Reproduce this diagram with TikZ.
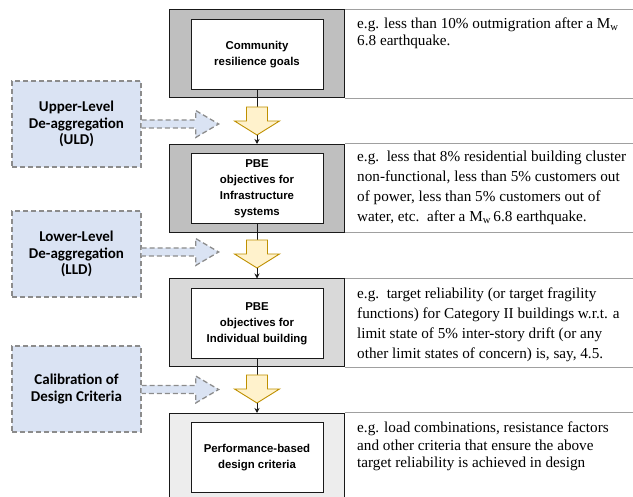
\documentclass[tikz,border=0pt]{standalone}
\usepackage{fontspec}
\setmainfont{Liberation Serif}
\newfontfamily\boxfont{Liberation Sans}
\newfontfamily\sidefont{Carlito}
\usepackage{tikz}
\usetikzlibrary{arrows.meta, positioning, calc}
\definecolor{mydark}{RGB}{25,25,25}
\definecolor{lvlgrayA}{RGB}{191,191,191}
\definecolor{lvlgrayB}{RGB}{217,217,217}
\definecolor{lvlgrayC}{RGB}{237,237,237}
\definecolor{linegray}{RGB}{160,160,160}
\definecolor{dashgray}{RGB}{140,140,140}
\definecolor{hdrblue}{RGB}{218,227,243}
\definecolor{myamber}{RGB}{191,144,0}
\definecolor{hdramber}{RGB}{255,242,204}
\tikzset{
  outerbox/.style={rectangle, draw=mydark, minimum width=175pt,
    minimum height=88pt, line width=1pt},
  innerbox/.style={rectangle, draw=mydark, fill=white, align=center,
    minimum width=132pt, minimum height=70pt, line width=1pt,
    font=\boxfont\bfseries\fontsize{11.4}{16}\selectfont},
  sidebox/.style={rectangle, draw=dashgray, fill=hdrblue, align=center,
    minimum width=129pt, minimum height=86pt, line width=1.3pt,
    dash pattern=on 5pt off 3pt,
    font=\sidefont\bfseries\fontsize{15}{16.5}\selectfont},
  sidearrow/.style={draw=dashgray, fill=hdrblue, line width=1.3pt,
    dash pattern=on 5pt off 3pt},
  blockarrow/.style={draw=myamber, fill=hdramber, line width=0.9pt},
  note/.style={anchor=north west, inner sep=0pt, align=left,
    font=\fontsize{15.2}{20}\selectfont},
  tableline/.style={draw=linegray, line width=1pt},
  line/.style={line width=1pt, color=mydark},
  flowarrow/.style={-{Stealth[length=5pt,width=5pt]}, line width=1pt, color=mydark}
}

\begin{document}
\begin{tikzpicture}[x=1pt, y=-1pt]
  \clip (0,0) rectangle (633,497);

  % Levels
  \node[outerbox, fill=lvlgrayA] (lvl1) at (257,54) {};
  \node[innerbox] (obj1) at (257,54.5) {Community\\resilience goals};
  \node[outerbox, fill=lvlgrayA] (lvl2) at (257,188.5) {};
  \node[innerbox] (obj2) at (257,189) {PBE\\objectives for\\Infrastructure\\systems};
  \node[outerbox, fill=lvlgrayB] (lvl3) at (257,323) {};
  \node[innerbox] (obj3) at (257,323.5) {PBE\\objectives for\\Individual building};
  \node[outerbox, fill=lvlgrayC] (lvl4) at (257,457.5) {};
  \node[innerbox] (obj4) at (257,458) {Performance-based\\design criteria};

  % Table lines on the right
  \draw[tableline] (lvl1.north east) -- ++(300,0);
  \draw[tableline] (lvl1.south east) -- ++(300,0);
  \draw[tableline] (lvl2.north east) -- ++(300,0);
  \draw[tableline] (lvl2.south east) -- ++(300,0);
  \draw[tableline] (lvl3.north east) -- ++(300,0);
  \draw[tableline] (lvl3.south east) -- ++(300,0);
  \draw[tableline] (lvl4.north east) -- ++(300,0);

  % Examples
  \node[note, font=\fontsize{15.2}{17.5}\selectfont] (ex1) at ($(lvl1.north east)+(12,8)$)
    {e.g. less than 10\% outmigration after a M\textsubscript{w}\\6.8 earthquake.};
  \node[note] (ex2) at ($(lvl2.north east)+(12,7)$)
    {e.g.\ \ less that 8\% residential building cluster\\
     non-functional, less than 5\% customers out\\
     of power, less than 5\% customers out of\\
     water, etc.\ \ after a M\textsubscript{w}\,6.8 earthquake.};
  \node[note] (ex3) at ($(lvl3.north east)+(12,9)$)
    {e.g.\ \ target reliability (or target fragility\\
     functions) for Category II buildings w.r.t. a\\
     limit state of 5\% inter-story drift (or any\\
     other limit states of concern) is, say, 4.5.};
  \node[note, font=\fontsize{15.2}{17.5}\selectfont] (ex4) at ($(lvl4.north east)+(12,9)$)
    {e.g. load combinations, resistance factors\\
     and other criteria that ensure the above\\
     target reliability is achieved in design};

  % Block arrows between levels
  \coordinate (ya1) at (257,107);
  \coordinate (yt1) at (257,135);
  \coordinate (ya2) at (257,240);
  \coordinate (yt2) at (257,268);
  \coordinate (ya3) at (257,375);
  \coordinate (yt3) at (257,403);
  \draw[line] (obj1.south) -- (ya1);
  \draw[line] (obj2.south) -- (ya2);
  \draw[line] (obj3.south) -- (ya3);
  \draw[blockarrow] (ya1) ++(-10.5,0) -- ++(21,0) -- ++(0,14) -- ++(12,0)
    -- ++(-22.5,14) -- ++(-22.5,-14) -- ++(12,0) -- cycle;
  \draw[blockarrow] (ya2) ++(-10.5,0) -- ++(21,0) -- ++(0,14) -- ++(12,0)
    -- ++(-22.5,14) -- ++(-22.5,-14) -- ++(12,0) -- cycle;
  \draw[blockarrow] (ya3) ++(-10.5,0) -- ++(21,0) -- ++(0,14) -- ++(12,0)
    -- ++(-22.5,14) -- ++(-22.5,-14) -- ++(12,0) -- cycle;
  \draw[flowarrow] (yt1) -- (lvl2.north);
  \draw[flowarrow] (yt2) -- (lvl3.north);
  \draw[flowarrow] (yt3) -- (lvl4.north);

  % De-aggregation steps
  \node[sidebox] (uld) at (76.5,124) {Upper-Level\\De-aggregation\\(ULD)};
  \node[sidebox] (lld) at (76.5,254) {Lower-Level\\De-aggregation\\(LLD)};
  \node[sidebox] (cal) at (76.5,389) {Calibration of\\Design Criteria};

  % Dashed arrows
  \draw[sidearrow] ($(uld.east)+(0,-4)$) -- ++(54,0) -- ++(0,-9.5) -- ++(23,13.5)
    -- ++(-23,13.5) -- ++(0,-9.5) -- ++(-54,0);
  \draw[sidearrow] ($(lld.east)+(0,-6)$) -- ++(54,0) -- ++(0,-9.5) -- ++(23,13.5)
    -- ++(-23,13.5) -- ++(0,-9.5) -- ++(-54,0);
  \draw[sidearrow] ($(cal.east)+(0,-3.5)$) -- ++(54,0) -- ++(0,-9.5) -- ++(23,13.5)
    -- ++(-23,13.5) -- ++(0,-9.5) -- ++(-54,0);
\end{tikzpicture}
\end{document}
